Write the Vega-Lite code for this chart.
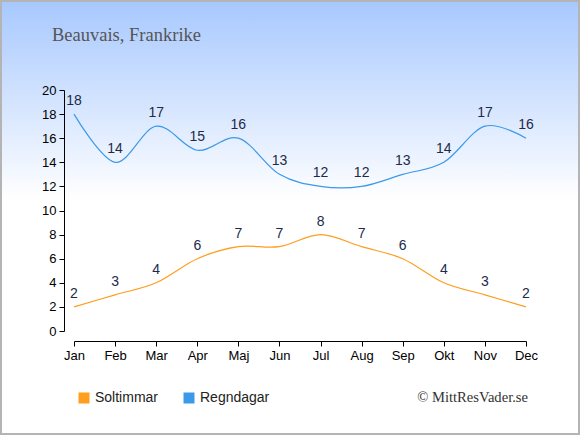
{
  "$schema": "https://vega.github.io/schema/vega-lite/v6.json",
  "autosize": "none",
  "width": 452,
  "height": 241,
  "padding": {"left": 74, "top": 90, "right": 54, "bottom": 104},
  "background": "white",
  "title": {
    "text": "Beauvais, Frankrike",
    "anchor": "start",
    "frame": "group",
    "dx": -22,
    "offset": -59,
    "baseline": "alphabetic",
    "font": "Liberation Serif",
    "fontSize": 18.5,
    "fontWeight": "normal",
    "color": "#555555"
  },
  "datasets": {
    "climate": [
      {"month": "Jan", "series": "Soltimmar", "value": 2},
      {"month": "Feb", "series": "Soltimmar", "value": 3},
      {"month": "Mar", "series": "Soltimmar", "value": 4},
      {"month": "Apr", "series": "Soltimmar", "value": 6},
      {"month": "Maj", "series": "Soltimmar", "value": 7},
      {"month": "Jun", "series": "Soltimmar", "value": 7},
      {"month": "Jul", "series": "Soltimmar", "value": 8},
      {"month": "Aug", "series": "Soltimmar", "value": 7},
      {"month": "Sep", "series": "Soltimmar", "value": 6},
      {"month": "Okt", "series": "Soltimmar", "value": 4},
      {"month": "Nov", "series": "Soltimmar", "value": 3},
      {"month": "Dec", "series": "Soltimmar", "value": 2},
      {"month": "Jan", "series": "Regndagar", "value": 18},
      {"month": "Feb", "series": "Regndagar", "value": 14},
      {"month": "Mar", "series": "Regndagar", "value": 17},
      {"month": "Apr", "series": "Regndagar", "value": 15},
      {"month": "Maj", "series": "Regndagar", "value": 16},
      {"month": "Jun", "series": "Regndagar", "value": 13},
      {"month": "Jul", "series": "Regndagar", "value": 12},
      {"month": "Aug", "series": "Regndagar", "value": 12},
      {"month": "Sep", "series": "Regndagar", "value": 13},
      {"month": "Okt", "series": "Regndagar", "value": 14},
      {"month": "Nov", "series": "Regndagar", "value": 17},
      {"month": "Dec", "series": "Regndagar", "value": 16}
    ]
  },
  "layer": [
    {
      "data": {"values": [{}]},
      "mark": {
        "type": "rect",
        "clip": false,
        "x": -73,
        "x2": 505,
        "y": -89,
        "y2": 344,
        "stroke": "#b4b4b4",
        "strokeWidth": 2,
        "fill": {
          "gradient": "linear",
          "x1": 0, "y1": 0, "x2": 0, "y2": 1,
          "stops": [
            {"offset": 0, "color": "#a7c8fe"},
            {"offset": 0.46, "color": "#ffffff"},
            {"offset": 1, "color": "#ffffff"}
          ]
        }
      },
      "encoding": {}
    },
    {
      "data": {"name": "climate"},
      "mark": {"type": "line", "interpolate": "cardinal", "strokeWidth": 1.2},
      "encoding": {
        "x": {
          "field": "month",
          "type": "ordinal",
          "scale": {"type": "point", "padding": 0, "domain": ["Jan", "Feb", "Mar", "Apr", "Maj", "Jun", "Jul", "Aug", "Sep", "Okt", "Nov", "Dec"]},
          "axis": {"title": null, "zindex": 2, "offset": 10, "labelAngle": 0, "labelPadding": 3, "labelFontSize": 13, "labelOverlap": false}
        },
        "y": {
          "field": "value",
          "type": "quantitative",
          "scale": {"domain": [0, 20], "nice": false},
          "axis": {"title": null, "zindex": 2, "offset": 10, "labelPadding": 3, "labelFontSize": 13, "labelOverlap": false, "values": [0, 2, 4, 6, 8, 10, 12, 14, 16, 18, 20]}
        },
        "color": {
          "field": "series",
          "type": "nominal",
          "scale": {"domain": ["Soltimmar", "Regndagar"], "range": ["#ff9d1c", "#3b99ea"]},
          "legend": {
            "orient": "none",
            "legendX": 3,
            "legendY": 301,
            "direction": "horizontal",
            "title": null,
            "padding": 0,
            "symbolType": "square",
            "symbolSize": 121,
            "symbolStrokeWidth": 0,
            "labelFont": "Liberation Sans",
            "labelFontSize": 14,
            "labelColor": "#222222",
            "labelOffset": 4,
            "columnPadding": 23,
            "encode": {
              "symbols": {"update": {"fill": {"scale": "color", "field": "value"}, "fillOpacity": {"value": 1}}}
            }
          }
        }
      }
    },
    {
      "data": {"name": "climate"},
      "mark": {"type": "text", "dy": -13, "baseline": "middle", "font": "Liberation Sans", "fontSize": 14, "color": "#1d2b4a"},
      "encoding": {
        "x": {"field": "month", "type": "ordinal", "axis": {"title": null, "zindex": 2, "offset": 10, "labelAngle": 0, "labelPadding": 3, "labelFontSize": 13, "labelOverlap": false}},
        "y": {"field": "value", "type": "quantitative", "axis": {"title": null, "zindex": 2, "offset": 10, "labelPadding": 3, "labelFontSize": 13, "labelOverlap": false, "values": [0, 2, 4, 6, 8, 10, 12, 14, 16, 18, 20]}},
        "text": {"field": "value", "type": "quantitative"},
        "detail": {"field": "series"}
      }
    },
    {
      "data": {"values": [{"label": "© MittResVader.se"}]},
      "mark": {"type": "text", "align": "right", "baseline": "middle", "dx": 2, "font": "Liberation Serif", "fontSize": 14.6, "color": "#333333", "clip": false},
      "encoding": {
        "x": {"datum": "Dec", "type": "ordinal", "axis": {"title": null, "zindex": 2, "offset": 10, "labelAngle": 0, "labelPadding": 3, "labelFontSize": 13, "labelOverlap": false}},
        "y": {"datum": -5.56, "type": "quantitative", "axis": {"title": null, "zindex": 2, "offset": 10, "labelPadding": 3, "labelFontSize": 13, "labelOverlap": false, "values": [0, 2, 4, 6, 8, 10, 12, 14, 16, 18, 20]}},
        "text": {"field": "label"}
      }
    }
  ],
  "config": {
    "view": {"stroke": null},
    "axis": {
      "grid": false,
      "domainColor": "#000000",
      "tickColor": "#000000",
      "tickSize": 5,
      "labelColor": "#000000",
      "labelFont": "Liberation Sans"
    }
  }
}
